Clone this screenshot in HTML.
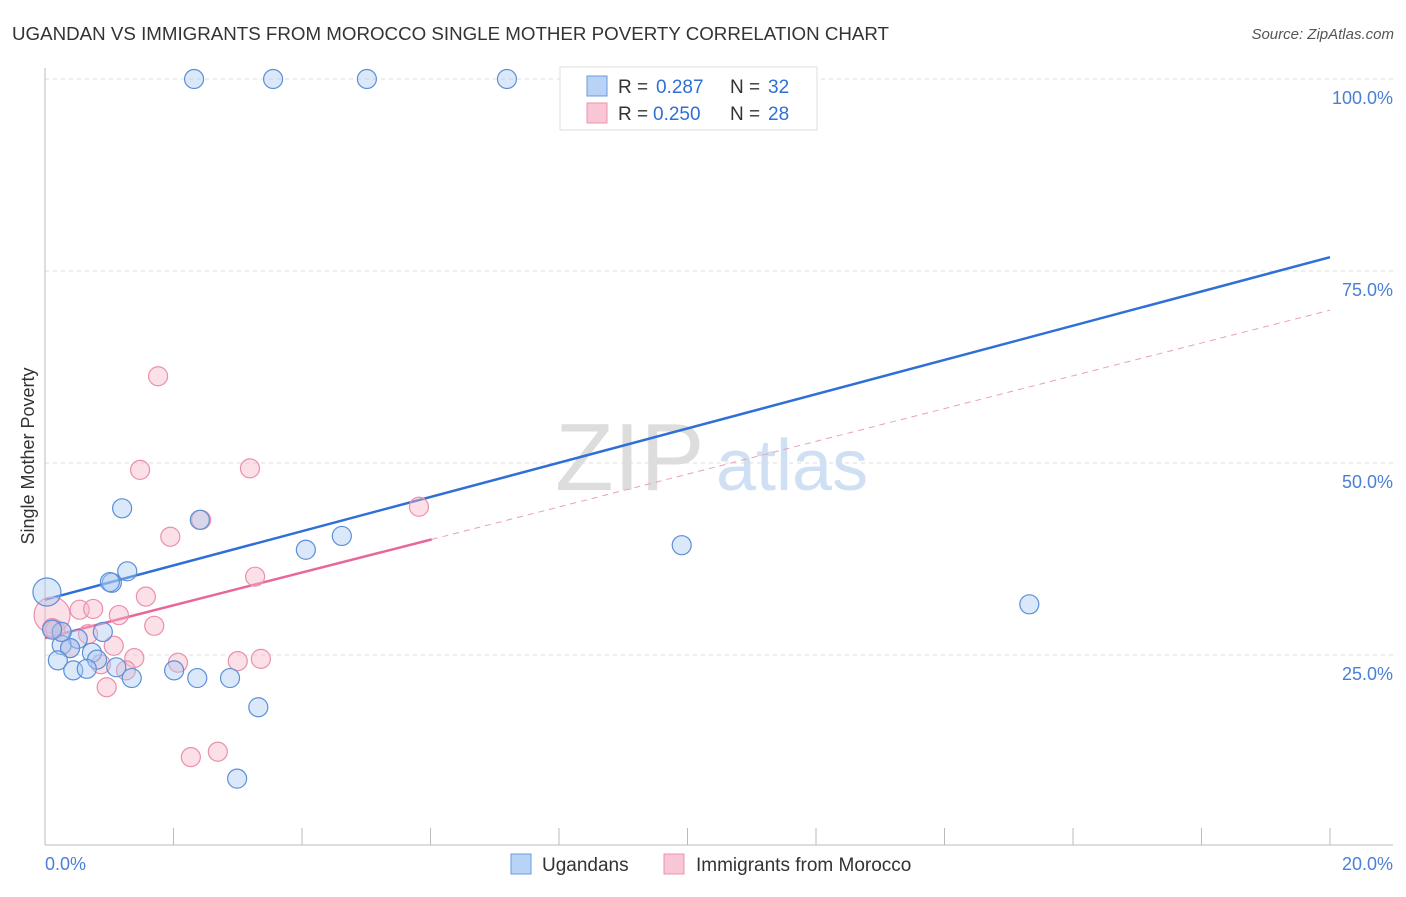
<!DOCTYPE html>
<html><head><meta charset="utf-8"><style>
body{margin:0;background:#fff;font-family:"Liberation Sans",sans-serif}
svg text{font-family:"Liberation Sans",sans-serif}
</style></head><body>
<svg width="1406" height="892">
<text x="12" y="40" font-size="18" fill="#333" textLength="877" lengthAdjust="spacingAndGlyphs">UGANDAN VS IMMIGRANTS FROM MOROCCO SINGLE MOTHER POVERTY CORRELATION CHART</text>
<text x="1394" y="39" font-size="15" fill="#555" font-style="italic" text-anchor="end">Source: ZipAtlas.com</text>
<g>
<text x="555" y="490" font-size="96" fill="#ddd" font-family="Liberation Serif">ZIP</text>
<text x="716" y="490" font-size="72" fill="#cfe0f4">atlas</text>
</g>
<g id="grid"></g>
<g id="axes"></g>
<text transform="translate(34,456) rotate(-90)" font-size="18" fill="#333" text-anchor="middle">Single Mother Poverty</text>
<g id="trends"></g>
<g id="points"></g>
<g>
<rect x="560" y="67" width="257" height="63" fill="#fff" stroke="#ddd"/>
<rect x="587" y="76" width="20" height="20" fill="#b8d3f5" stroke="#6a9ae0"/>
<rect x="587" y="103" width="20" height="20" fill="#f9c6d5" stroke="#eb93ae"/>
<text x="618" y="93" font-size="19" fill="#333">R =<tspan x="656" fill="#2f6fd6">0.287</tspan><tspan x="730">N =</tspan><tspan x="768" fill="#2f6fd6">32</tspan></text>
<text x="618" y="120" font-size="19" fill="#333">R =<tspan x="653" fill="#2f6fd6">0.250</tspan><tspan x="730">N =</tspan><tspan x="768" fill="#2f6fd6">28</tspan></text>
</g>
<g>
<rect x="511" y="854" width="20" height="20" fill="#b8d3f5" stroke="#6a9ae0"/>
<text x="542" y="871" font-size="19" fill="#333">Ugandans</text>
<rect x="664" y="854" width="20" height="20" fill="#f9c6d5" stroke="#eb93ae"/>
<text x="696" y="871" font-size="19" fill="#333">Immigrants from Morocco</text>
</g>
</svg>
<script>
const yTicks=[25,50,75,100];
const yTickLabels=["25.0%","50.0%","75.0%","100.0%"];
const xTickLabels=["0.0%","20.0%"];
const ugX=[2.32,3.55,5.01,7.19,0.03,1.20,2.41,1.28,1.04,1.01,4.06,4.62,9.91,15.32,0.90,0.51,0.26,0.39,0.73,0.81,0.20,0.44,0.65,1.11,1.35,2.01,2.37,2.88,3.32,2.99,0.26,0.11];
const ugY=[100,100,100,100,33.2,44.1,42.6,35.9,34.4,34.5,38.7,40.5,39.3,31.6,28.0,27.1,26.3,25.9,25.3,24.4,24.3,23.0,23.2,23.4,22.0,23.0,22.0,22.0,18.2,8.9,28.0,28.3];
const moX=[1.76,1.48,3.19,5.82,1.95,2.43,3.27,1.57,1.70,0.54,0.75,1.15,0.11,0.16,0.26,0.67,0.39,1.07,1.39,0.87,2.07,3.00,3.36,1.26,0.96,2.27,2.69,0.11];
const moY=[61.3,49.1,49.3,44.3,40.4,42.6,35.2,32.6,28.8,30.9,31.0,30.2,30.2,28.3,28.0,27.7,25.9,26.2,24.6,23.8,24.0,24.2,24.5,23.0,20.8,11.7,12.4,28.5];
const ugTrend=[32.2,2.23]; // intercept, slope
const moTrend=[27.2,2.135];
const moSolidEnd=6.02;
const X=v=>45+v/20*1285, Y=v=>847-v/100*768;
const NS="http://www.w3.org/2000/svg";
function mk(p,t,a){const e=document.createElementNS(NS,t);for(const k in a)e.setAttribute(k,a[k]);p.appendChild(e);return e;}
const grid=document.getElementById('grid'),axes=document.getElementById('axes'),tr=document.getElementById('trends'),pts=document.getElementById('points');
yTicks.forEach((t,i)=>{
 const l=mk(grid,'line',{x1:45,x2:1393,y1:Y(t),y2:Y(t),stroke:'#ddd','stroke-dasharray':'4,4'});
 
 
 const tx=mk(axes,'text',{x:1393,y:Y(t)+25,'font-size':18,fill:'#4a7fd4','text-anchor':'end'});
 tx.textContent=yTickLabels[i];
 
 
});
let a=mk(axes,'line',{x1:45,x2:45,y1:68,y2:845,stroke:'#bbb'});


a=mk(axes,'line',{x1:45,x2:1393,y1:845,y2:845,stroke:'#bbb'});


for(let i=0;i<=10;i++){const t=mk(axes,'line',{x1:X(i*2),x2:X(i*2),y1:828,y2:845,stroke:'#bbb'});
 
 }
let xl=mk(axes,'text',{x:45,y:870,'font-size':18,fill:'#4a7fd4'});xl.textContent=xTickLabels[0];


xl=mk(axes,'text',{x:1393,y:870,'font-size':18,fill:'#4a7fd4','text-anchor':'end'});xl.textContent=xTickLabels[1];


function pt(x,y,fill,stroke,name,r){const c=mk(pts,'circle',{cx:X(x),cy:Y(y),r:r,fill:fill,'fill-opacity':0.42,stroke:stroke,'stroke-width':1.2});
 
 }
moX.forEach((x,i)=>pt(x,moY[i],'#f6b5c8','#ec8fab','point-morocco',i==12?18:9.5));
ugX.forEach((x,i)=>pt(x,ugY[i],'#a9c8f0','#5b8fd9','point-ugandans',i==4?14:9.5));
let t=mk(tr,'line',{x1:X(0),y1:Y(ugTrend[0]),x2:X(20),y2:Y(ugTrend[0]+ugTrend[1]*20),stroke:'#2f6fd6','stroke-width':2.5});


t=mk(tr,'line',{x1:X(0),y1:Y(moTrend[0]),x2:X(moSolidEnd),y2:Y(moTrend[0]+moTrend[1]*moSolidEnd),stroke:'#e8679a','stroke-width':2.5});


t=mk(tr,'line',{x1:X(moSolidEnd),y1:Y(moTrend[0]+moTrend[1]*moSolidEnd),x2:X(20),y2:Y(moTrend[0]+moTrend[1]*20),stroke:'#e8a0b8','stroke-width':1,'stroke-dasharray':'6,5'});


</script>
</body></html>
